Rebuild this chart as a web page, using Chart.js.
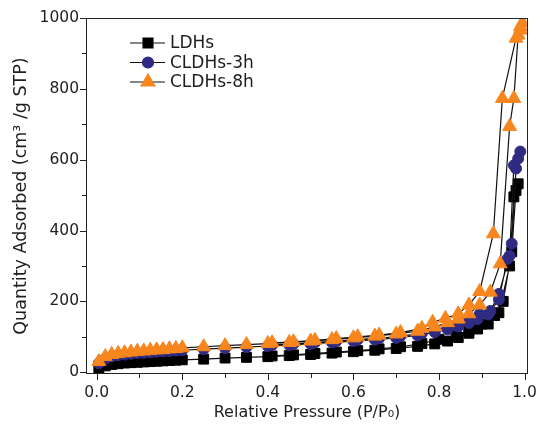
<!DOCTYPE html>
<html>
<head>
<meta charset="utf-8">
<script src="https://cdn.jsdelivr.net/npm/chart.js@4.4.1/dist/chart.umd.min.js"></script>
<style>
  html, body { margin: 0; padding: 0; background: #fff; }
</style>
</head>
<body>
<canvas id="isoChart" width="540" height="427"></canvas>
<script>
// N2 isotherms: adsorption branch (P/P0 rising) then desorption branch (falling)
const ldhsAdsP = [0.005, 0.02, 0.035, 0.05, 0.065, 0.08, 0.095, 0.11, 0.125, 0.14, 0.155, 0.17, 0.185, 0.2, 0.25, 0.3, 0.35, 0.4, 0.45, 0.5, 0.55, 0.6, 0.65, 0.7, 0.75, 0.79, 0.82, 0.845, 0.87, 0.89, 0.915, 0.94, 0.965, 0.975, 0.985];
const ldhsAdsQ = [9, 18, 22, 24, 26, 27, 28, 29, 30, 31, 32, 33, 34, 35, 37, 40, 42, 44, 47, 50, 54, 58, 62, 67, 73, 80, 88, 98, 110, 122, 136, 168, 300, 495, 532];
const ldhsDesP = [0.98, 0.97, 0.95, 0.93, 0.9, 0.87, 0.84, 0.8, 0.76, 0.71, 0.66, 0.61, 0.56, 0.51, 0.46, 0.41];
const ldhsDesQ = [513, 340, 200, 160, 136, 118, 104, 93, 81, 72, 66, 61, 57, 53, 49, 46];

const c3hAdsP = [0.005, 0.02, 0.035, 0.05, 0.065, 0.08, 0.095, 0.11, 0.125, 0.14, 0.155, 0.17, 0.185, 0.2, 0.25, 0.3, 0.35, 0.4, 0.45, 0.5, 0.55, 0.6, 0.65, 0.7, 0.75, 0.79, 0.82, 0.845, 0.87, 0.89, 0.915, 0.94, 0.96, 0.97, 0.98, 0.99];
const c3hAdsQ = [25, 38, 45, 48, 50, 52, 54, 55, 56, 58, 59, 60, 61, 62, 65, 68, 71, 74, 77, 80, 84, 88, 92, 97, 104, 113, 121, 129, 139, 150, 163, 205, 320, 363, 575, 623];
const c3hDesP = [0.985, 0.975, 0.965, 0.94, 0.92, 0.895, 0.87, 0.845, 0.82, 0.79, 0.76, 0.71, 0.66, 0.61, 0.56, 0.51, 0.46, 0.41];
const c3hDesQ = [603, 584, 329, 221, 173, 164, 156, 136, 127, 121, 110, 102, 96, 92, 88, 84, 80, 77];

const c8hAdsP = [0.005, 0.02, 0.035, 0.05, 0.065, 0.08, 0.095, 0.11, 0.125, 0.14, 0.155, 0.17, 0.185, 0.2, 0.25, 0.3, 0.35, 0.4, 0.45, 0.5, 0.55, 0.6, 0.65, 0.7, 0.75, 0.79, 0.82, 0.845, 0.87, 0.895, 0.92, 0.943, 0.965, 0.975, 0.985, 0.99, 0.995];
const c8hAdsQ = [30, 44, 50, 53, 55, 57, 59, 60, 62, 63, 64, 66, 67, 69, 72, 75, 78, 81, 84, 88, 92, 97, 102, 108, 116, 128, 140, 150, 165, 190, 226, 306, 694, 773, 952, 966, 986];
const c8hDesP = [0.99, 0.98, 0.948, 0.927, 0.895, 0.87, 0.845, 0.815, 0.785, 0.76, 0.71, 0.66, 0.61, 0.56, 0.51, 0.46, 0.41];
const c8hDesQ = [975, 943, 773, 391, 228, 190, 165, 152, 141, 124, 112, 105, 100, 95, 90, 86, 83];

const seriesNames = ['LDHs', 'CLDHs-3h', 'CLDHs-8h'];
const xMajorTicks = [0, 0.2, 0.4, 0.6, 0.8, 1.0];
const xMinorTicks = [0.1, 0.3, 0.5, 0.7, 0.9];
const yMajorTicks = [0, 200, 400, 600, 800, 1000];
const yMinorTicks = [100, 300, 500, 700, 900];

const FONT = '"DejaVu Sans", "Liberation Sans", Arial, sans-serif';
const TEXT = '#1e1e1e';

function loop(adsP, adsQ, desP, desQ) {
    const pts = adsP.map((p, i) => ({ x: p, y: adsQ[i] }));
    return pts.concat(desP.map((p, i) => ({ x: p, y: desQ[i] })));
}

function makeSeries(label, points, style, radius, color, order) {
    return {
        label: label,
        data: points,
        showLine: true,
        borderColor: '#111',
        borderWidth: 1.2,
        pointStyle: style,
        pointRadius: radius,
        pointHoverRadius: radius,
        pointBackgroundColor: color,
        pointBorderColor: color,
        pointBorderWidth: 1,
        order: order
    };
}

// frame + ticks drawn by hand so minor ticks can be shorter
const framePlugin = {
    id: 'frameTicks',
    afterDraw(chart) {
        const { ctx, chartArea: a, scales } = chart;
        ctx.save();
        ctx.strokeStyle = '#222';
        ctx.lineWidth = 1;
        ctx.strokeRect(a.left + 0.5, a.top + 0.5, a.right - a.left - 1, a.bottom - a.top - 1);
        ctx.beginPath();
        const xt = (v, len) => {
            const px = Math.round(scales.x.getPixelForValue(v)) + 0.5;
            ctx.moveTo(px, a.bottom); ctx.lineTo(px, a.bottom + len);
        };
        const yt = (v, len) => {
            const py = Math.round(scales.y.getPixelForValue(v)) + 0.5;
            ctx.moveTo(a.left, py); ctx.lineTo(a.left - len, py);
        };
        xMajorTicks.forEach((v) => xt(v, 6));
        xMinorTicks.forEach((v) => xt(v, 4));
        yMajorTicks.forEach((v) => yt(v, 6));
        yMinorTicks.forEach((v) => yt(v, 4));
        ctx.stroke();
        ctx.restore();
    }
};

const legendPlugin = {
    id: 'isoLegend',
    afterDraw(chart) {
        const ctx = chart.ctx;
        [0, 1, 2].forEach((i) => {
            const ds = chart.data.datasets[i];
            const y = 43 + i * 19.5;
            ctx.save();
            ctx.strokeStyle = '#111';
            ctx.lineWidth = 1.2;
            ctx.beginPath();
            ctx.moveTo(130, y);
            ctx.lineTo(165, y);
            ctx.stroke();
            ctx.fillStyle = ds.pointBackgroundColor;
            ctx.strokeStyle = ds.pointBorderColor;
            Chart.helpers.drawPoint(ctx, { pointStyle: ds.pointStyle, radius: ds.pointRadius, borderWidth: 1, rotation: 0 }, 148, y);
            ctx.fillStyle = TEXT;
            ctx.font = '17px ' + FONT;
            ctx.textBaseline = 'middle';
            ctx.textAlign = 'left';
            ctx.fillText(ds.label, 170, y + 1);
            ctx.restore();
        });
    }
};

const ctx = document.getElementById('isoChart').getContext('2d');
new Chart(ctx, {
    type: 'scatter',
    data: {
        datasets: [
            makeSeries(seriesNames[0], loop(ldhsAdsP, ldhsAdsQ, ldhsDesP, ldhsDesQ), 'rect', 7, '#000000', 3),
            makeSeries(seriesNames[1], loop(c3hAdsP, c3hAdsQ, c3hDesP, c3hDesQ), 'circle', 5.5, '#2f2b82', 2),
            makeSeries(seriesNames[2], loop(c8hAdsP, c8hAdsQ, c8hDesP, c8hDesQ), 'triangle', 8, '#f7861e', 1)
        ]
    },
    options: {
        responsive: false,
        animation: false,
        layout: { padding: { left: 0, right: 12, top: 18, bottom: 0 } },
        plugins: {
            legend: { display: false },
            tooltip: { enabled: false }
        },
        scales: {
            x: {
                type: 'linear',
                min: -0.025,
                max: 1.008,
                afterBuildTicks: (s) => { s.ticks = xMajorTicks.map((v) => ({ value: v })); },
                afterFit: (s) => { s.height = 53; s.paddingLeft = 0; s.paddingRight = 0; },
                grid: { display: false, drawTicks: false },
                border: { display: false },
                ticks: {
                    padding: 10,
                    color: TEXT,
                    font: { family: FONT, size: 15.5 },
                    maxRotation: 0,
                    callback: (v) => Number(v).toFixed(1)
                },
                title: {
                    display: true,
                    text: 'Relative Pressure (P/P\u2080)',
                    color: TEXT,
                    font: { family: FONT, size: 16 },
                    padding: { top: 0, bottom: 5 }
                }
            },
            y: {
                type: 'linear',
                min: -5,
                max: 1000,
                afterBuildTicks: (s) => { s.ticks = yMajorTicks.map((v) => ({ value: v })); },
                afterFit: (s) => { s.width = 86; s.paddingTop = 0; s.paddingBottom = 0; },
                grid: { display: false, drawTicks: false },
                border: { display: false },
                ticks: {
                    padding: 7,
                    color: TEXT,
                    font: { family: FONT, size: 15.5 },
                    callback: (v) => String(v)
                },
                title: {
                    display: true,
                    text: 'Quantity Adsorbed (cm\u00b3 /g STP)',
                    color: TEXT,
                    font: { family: FONT, size: 17.5 },
                    padding: { top: 11, bottom: 0 }
                }
            }
        }
    },
    plugins: [framePlugin, legendPlugin]
});
</script>
</body>
</html>
